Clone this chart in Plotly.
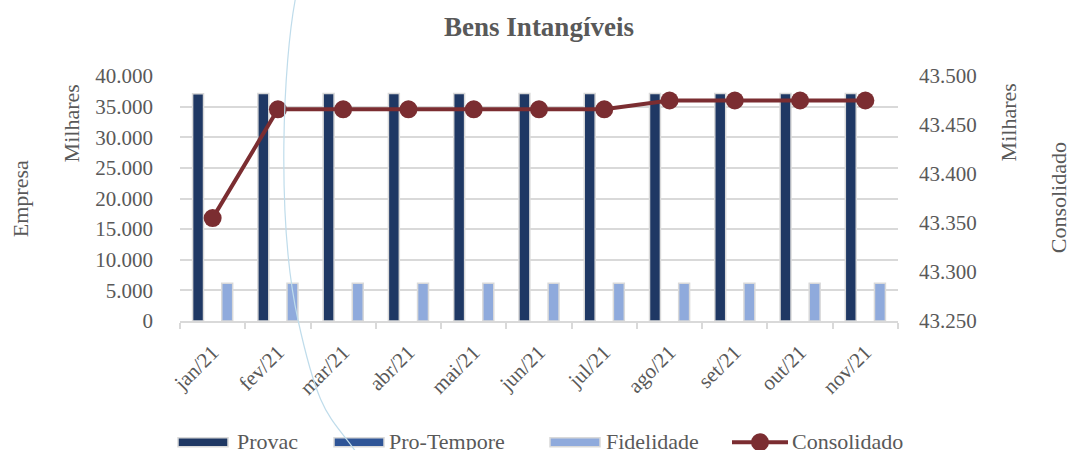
import plotly.graph_objects as go

months = ["jan/21", "fev/21", "mar/21", "abr/21", "mai/21", "jun/21",
          "jul/21", "ago/21", "set/21", "out/21", "nov/21"]
provac = [37100, 37150, 37150, 37150, 37150, 37150, 37150, 37150, 37150, 37150, 37150]
pro_tempore = [0, 0, 0, 0, 0, 0, 0, 0, 0, 0, 0]
fidelidade = [6150, 6150, 6150, 6150, 6150, 6150, 6150, 6150, 6150, 6150, 6150]
consolidado = [43355, 43466, 43466, 43466, 43466, 43466, 43466, 43475, 43475, 43475, 43475]

left_ticks = [0, 5000, 10000, 15000, 20000, 25000, 30000, 35000, 40000]
right_ticks = [43250, 43300, 43350, 43400, 43450, 43500]

C_PROVAC = "#1F3864"
C_PRO = "#2F5597"
C_FID = "#8FAADC"
C_CONS = "#7B2D31"
GRAY = "#595959"
GRID = "#D9D9D9"
FONT = "Liberation Serif"

W, H = 1070, 450
L, R, T, B = 180, 898, 75.5, 321


def px(x):
    return (x - L) / (R - L)


def py(y):
    return (B - y) / (B - T)


fig = go.Figure()
fig.add_trace(go.Bar(x=months, y=provac, name="Provac", marker_color=C_PROVAC,
                     marker_line=dict(color=GRID, width=1.5), showlegend=False))
fig.add_trace(go.Bar(x=months, y=pro_tempore, name="Pro-Tempore", marker_color=C_PRO,
                     marker_line=dict(color=GRID, width=0), showlegend=False))
fig.add_trace(go.Bar(x=months, y=fidelidade, name="Fidelidade", marker_color=C_FID,
                     marker_line=dict(color=GRID, width=1.5), showlegend=False))
fig.add_trace(go.Scatter(x=months, y=consolidado, name="Consolidado", yaxis="y2",
                         mode="lines+markers", line=dict(color=C_CONS, width=4),
                         marker=dict(color=C_CONS, size=18), showlegend=False))

annotations = [
    dict(text="Empresa", x=px(20), y=py(199), textangle=-90),
    dict(text="Milhares", x=px(71), y=py(123), textangle=-90),
    dict(text="Milhares", x=px(1008), y=py(122), textangle=-90),
    dict(text="Consolidado", x=px(1058), y=py(198), textangle=-90),
]
annotations = [dict(a, xref="paper", yref="paper", showarrow=False,
                    xanchor="center", yanchor="middle",
                    font=dict(family=FONT, size=22, color=GRAY)) for a in annotations]

# custom legend
shapes = []
leg_y = 442.5
legend_items = [
    ("Provac", C_PROVAC, "bar", 178, 235),
    ("Pro-Tempore", C_PRO, "bar", 334, 387),
    ("Fidelidade", C_FID, "bar", 550, 604),
    ("Consolidado", C_CONS, "line", 732, 790),
]
for name, col, kind, x0, xt in legend_items:
    if kind == "bar":
        shapes.append(dict(type="rect", xref="paper", yref="paper",
                           x0=px(x0), x1=px(x0 + 50), y0=py(leg_y - 4.5), y1=py(leg_y + 4.5),
                           fillcolor=col, line=dict(color=GRID, width=1.5), layer="above"))
    else:
        shapes.append(dict(type="line", xref="paper", yref="paper",
                           x0=px(x0), x1=px(x0 + 56), y0=py(leg_y), y1=py(leg_y),
                           line=dict(color=col, width=4), layer="above"))
        cx = x0 + 28
        shapes.append(dict(type="circle", xref="paper", yref="paper",
                           x0=px(cx - 9), x1=px(cx + 9), y0=py(leg_y - 9), y1=py(leg_y + 9),
                           fillcolor=col, line=dict(color=col, width=0), layer="above"))
    annotations.append(dict(text=name, xref="paper", yref="paper", x=px(xt), y=py(leg_y - 1),
                            xanchor="left", yanchor="middle", showarrow=False,
                            font=dict(family=FONT, size=22, color=GRAY)))

# faint decorative curve present in the reference picture
pts = [(296, -5), (283, 60), (276, 220), (298, 320), (330, 415), (358, 455)]
p = [(px(a), py(b)) for a, b in pts]
path = (f"M {p[0][0]},{p[0][1]} C {p[1][0]},{p[1][1]} {p[2][0]},{p[2][1]} {p[3][0]},{p[3][1]} "
        f"S {p[4][0]},{p[4][1]} {p[5][0]},{p[5][1]}")
shapes.append(dict(type="path", xref="paper", yref="paper", path=path,
                   line=dict(color="#BFDCEB", width=1.2), layer="above"))

fig.update_layout(
    width=W, height=H,
    margin=dict(l=L, r=W - R, t=T, b=H - B, pad=0, autoexpand=False),
    paper_bgcolor="white", plot_bgcolor="white",
    separators=",.",
    barmode="group", bargap=0.33, bargroupgap=0.25,
    title=dict(text="<b>Bens Intangíveis</b>", x=0.5, xref="paper", xanchor="center",
               y=1 - 27 / H, yanchor="middle",
               font=dict(family=FONT, size=27, color=GRAY)),
    font=dict(family=FONT, size=21, color=GRAY),
    xaxis=dict(type="category", range=[-0.5, len(months) - 0.5], tickangle=-45,
               showgrid=False, showline=True,
               linecolor=GRID, linewidth=1.5, ticks="outside", tickson="boundaries",
               ticklen=6, tickcolor=GRID, tickwidth=1.5, automargin=False,
               ticklabelstandoff=9,
               tickfont=dict(family=FONT, size=21, color=GRAY)),
    yaxis=dict(range=[0, 40000], tickvals=left_ticks, tickformat=",.0f",
               showgrid=True, gridcolor=GRID, gridwidth=1.5, zeroline=False,
               showline=False, ticks="", ticklabelstandoff=26, automargin=False,
               tickfont=dict(family=FONT, size=21, color=GRAY)),
    yaxis2=dict(range=[43250, 43500], tickvals=right_ticks, tickformat=",.0f",
                overlaying="y", side="right", showgrid=False, zeroline=False,
                showline=False, ticks="", ticklabelstandoff=20, automargin=False,
                tickfont=dict(family=FONT, size=21, color=GRAY)),
    showlegend=False,
    annotations=annotations,
    shapes=shapes,
)

fig.write_html("out.html", config={"displayModeBar": False},
               post_script="document.body.style.margin='0';")
